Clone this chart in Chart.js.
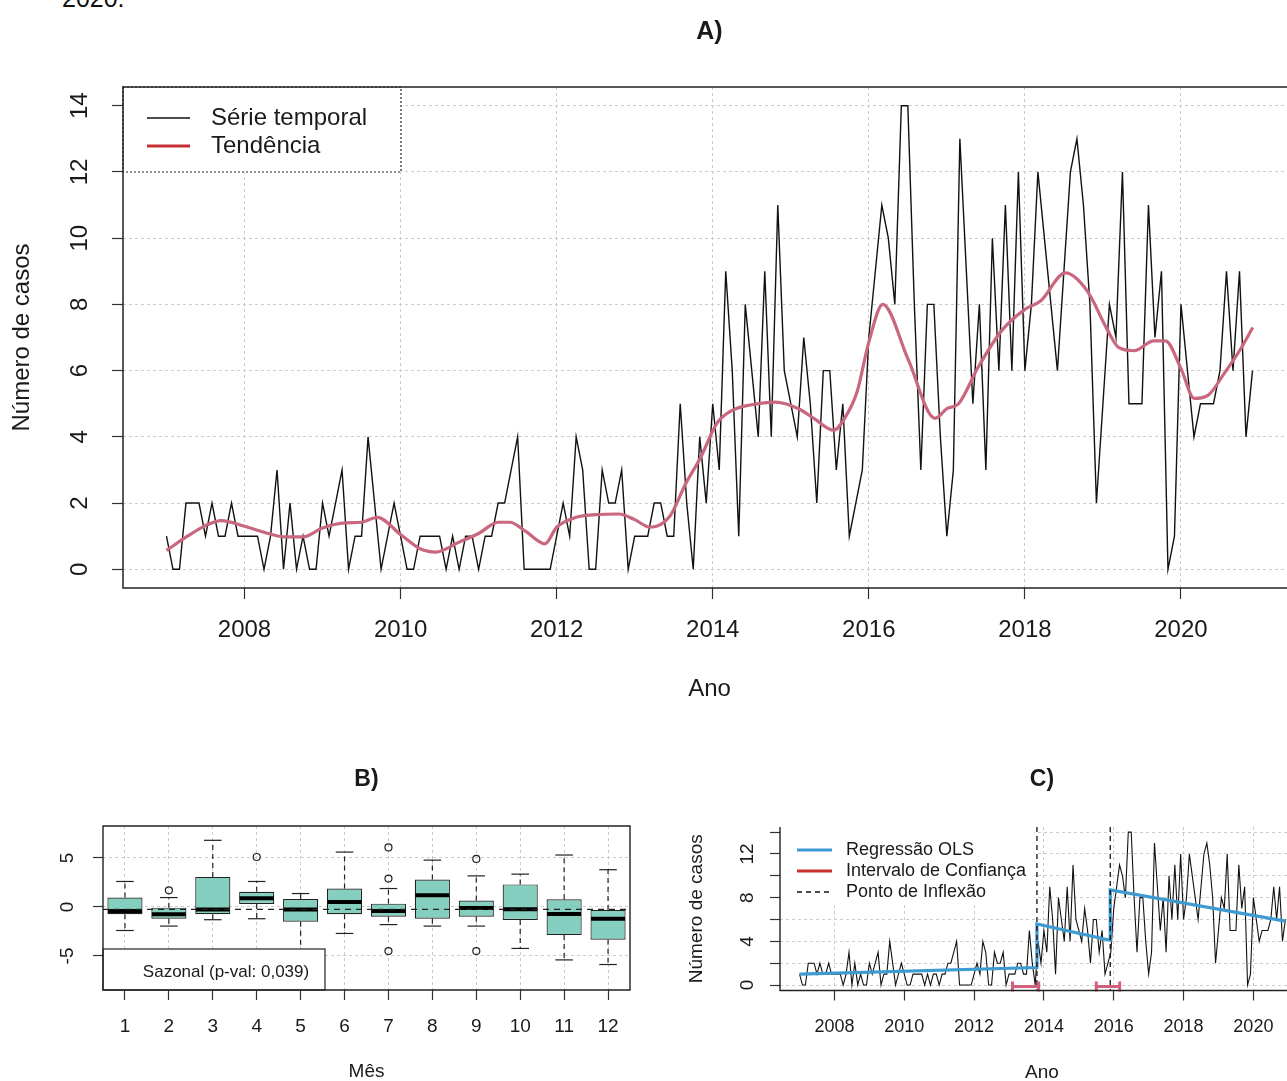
<!DOCTYPE html>
<html lang="pt">
<head>
<meta charset="utf-8">
<script src="https://cdn.jsdelivr.net/npm/chart.js@4.4.1/dist/chart.umd.min.js"></script>
<style>
  html, body { margin:0; padding:0; background:#fff; width:1287px; height:1081px; overflow:hidden; position:relative; }
  canvas { position:absolute; }
  #topo { position:absolute; left:62px; top:-16px; font:25px 'Liberation Sans', Arial, sans-serif; color:#111; }
</style>
</head>
<body>
<div id="topo">2020.</div>
<canvas id="graficoA" width="1296" height="720" style="left:0;top:0"></canvas>
<canvas id="graficoB" width="660" height="360" style="left:0;top:740px"></canvas>
<canvas id="graficoC" width="624" height="360" style="left:680px;top:740px"></canvas>
<script>
// serie mensal jan/2007 - dez/2020
const anoInicio = 2007;
const casos = [
  1,0,0,2,2,2,1,2,1,1,2,1,
  1,1,1,0,1,3,0,2,0,1,0,0,
  2,1,2,3,0,1,1,4,2,0,1,2,
  1,0,0,1,1,1,1,0,1,0,1,1,
  0,1,1,2,2,3,4,0,0,0,0,0,
  1,2,1,4,3,0,0,3,2,2,3,0,
  1,1,1,2,2,1,1,5,2,0,4,2,
  5,3,9,6,1,8,6,4,9,4,11,6,
  5,4,7,5,2,6,6,3,5,1,2,3,
  7,9,11,10,8,14,14,8,3,8,8,4,
  1,3,13,9,5,8,3,10,6,11,6,12,
  6,8,12,10,8,6,9,12,13,11,8,2,
  5,8,7,12,5,5,5,11,7,9,0,1,
  8,6,4,5,5,5,6,9,6,9,4,6
];

// tendencia
const tendenciaAno = [2007.00,2007.25,2007.50,2007.70,2008.00,2008.25,2008.50,2008.75,2009.00,2009.30,2009.50,2009.70,
  2010.00,2010.25,2010.45,2010.75,2011.00,2011.25,2011.40,2011.60,2011.85,2012.00,2012.25,2012.50,2012.80,
  2013.00,2013.20,2013.45,2013.65,2013.85,2014.05,2014.25,2014.50,2014.80,2015.10,2015.30,2015.55,2015.70,2015.85,
  2016.00,2016.18,2016.50,2016.85,2017.00,2017.15,2017.40,2017.70,2018.00,2018.20,2018.52,2018.80,
  2019.05,2019.20,2019.40,2019.65,2019.80,2020.00,2020.17,2020.35,2020.55,2020.75,2020.92];
const tendenciaValor = [0.57,0.97,1.32,1.47,1.30,1.12,0.98,0.98,1.25,1.40,1.42,1.57,
  1.05,0.62,0.52,0.82,1.08,1.42,1.42,1.15,0.77,1.27,1.57,1.65,1.67,
  1.50,1.27,1.60,2.57,3.40,4.40,4.80,4.97,5.05,4.85,4.55,4.20,4.60,5.36,
  6.86,8.00,6.36,4.56,4.85,5.00,6.10,7.20,7.85,8.10,8.95,8.40,
  7.26,6.70,6.60,6.90,6.90,6.06,5.16,5.26,5.90,6.60,7.30];

const anosEixo = [2008, 2010, 2012, 2014, 2016, 2018, 2020];
const ticksCasosA = [0, 2, 4, 6, 8, 10, 12, 14];

// componente sazonal por mes
const meses = ['1','2','3','4','5','6','7','8','9','10','11','12'];
const q1        = [-0.75,-1.2,-0.75,0.3,-1.5,-0.75,-1.0,-1.2,-1.0,-1.33,-2.87,-3.34];
const q3        = [0.96,-0.07,3.07,1.54,0.82,1.88,0.34,2.8,0.65,2.3,0.78,-0.3];
const mediana   = [-0.4,-0.75,-0.25,0.9,-0.27,0.5,-0.4,1.2,-0.1,-0.24,-0.72,-1.2];
const bigodeMax = [2.6,0.96,6.8,2.6,1.37,5.6,1.88,4.78,3.17,3.35,5.3,3.8];
const bigodeMin = [-2.4,-1.95,-1.3,-1.2,-5.2,-2.7,-1.8,-1.95,-1.95,-4.23,-5.4,-5.87];
const outlierMes   = ['2','4','7','7','7','9','9'];
const outlierValor = [1.7,5.1,6.07,2.9,-4.5,4.9,-4.5];
const mediaSazonal = -0.25;
const ticksSazonal = [-5, 0, 5];

// regressao segmentada
const olsAno   = [2007.0, 2013.8, 2013.8, 2015.9, 2015.9, 2020.917];
const olsValor = [1.0, 1.6, 5.6, 4.1, 8.7, 5.85];
const pontosInflexao = [2013.8, 2015.9];
const icInicio = [2013.1, 2015.5];
const icFim    = [2013.85, 2016.17];
const ticksCasosC = [0, 2, 4, 6, 8, 10, 12, 14];
const rotulosCasosC = [0, 4, 8, 12];

const fonte = "'Liberation Sans', Arial, sans-serif";
const corTexto = '#1a1a1a';
const corGrade = '#cccccc';

const serie = casos.map((v, i) => ({x: anoInicio + i / 12, y: v}));

// caixa, rotulos y girados e titulo do painel (estilo R)
const estiloR = {
  id: 'estiloR',
  afterDraw(chart, args, o) {
    const {ctx, chartArea: a, scales} = chart;
    ctx.save();
    ctx.strokeStyle = '#222';
    ctx.lineWidth = o.espessura || 1.4;
    ctx.beginPath();
    if (o.caixa === 'L') {
      ctx.moveTo(a.left, a.top); ctx.lineTo(a.left, a.bottom); ctx.lineTo(a.right, a.bottom);
    } else {
      ctx.rect(a.left, a.top, a.right - a.left, a.bottom - a.top);
    }
    ctx.stroke();
    ctx.fillStyle = corTexto;
    ctx.textAlign = 'center';
    ctx.textBaseline = 'middle';
    ctx.font = o.fonteY;
    o.rotulosY.forEach(v => {
      ctx.save();
      ctx.translate(a.left - o.distY, scales.y.getPixelForValue(v));
      ctx.rotate(-Math.PI / 2);
      ctx.fillText(String(v), 0, 0);
      ctx.restore();
    });
    ctx.font = o.fonteTitulo;
    ctx.fillText(o.titulo, (a.left + a.right) / 2, o.tituloY);
    ctx.restore();
  }
};

const legendaA = {
  id: 'legendaA',
  afterDatasetsDraw(chart) {
    const {ctx, chartArea: a} = chart;
    const ds = chart.data.datasets;
    ctx.save();
    ctx.fillStyle = '#fff';
    ctx.fillRect(a.left, a.top, 278, 85);
    ctx.setLineDash([2, 2]);
    ctx.strokeStyle = '#222';
    ctx.lineWidth = 1.2;
    ctx.strokeRect(a.left, a.top, 278, 85);
    ctx.setLineDash([]);
    const itens = [[ds[1].label, '#111', 1.5, 31], [ds[0].label, '#c62f35', 3, 59]];
    ctx.font = '24px ' + fonte;
    ctx.textBaseline = 'middle';
    itens.forEach(([txt, cor, lw, dy]) => {
      ctx.strokeStyle = cor; ctx.lineWidth = lw;
      ctx.beginPath(); ctx.moveTo(a.left + 24, a.top + dy); ctx.lineTo(a.left + 67, a.top + dy); ctx.stroke();
      ctx.fillStyle = corTexto;
      ctx.fillText(txt, a.left + 88, a.top + dy);
    });
    ctx.restore();
  }
};

const bigodes = {
  id: 'bigodes',
  afterDatasetsDraw(chart) {
    const {ctx, chartArea: a, scales: {x, y}} = chart;
    const larg = x.getPixelForValue(1) - x.getPixelForValue(0);
    ctx.save();
    ctx.strokeStyle = '#222';
    ctx.lineWidth = 1.2;
    meses.forEach((m, i) => {
      const px = x.getPixelForValue(i);
      [[q3[i], bigodeMax[i]], [q1[i], bigodeMin[i]]].forEach(([de, ate]) => {
        ctx.setLineDash([5, 4]);
        ctx.beginPath(); ctx.moveTo(px, y.getPixelForValue(de)); ctx.lineTo(px, y.getPixelForValue(ate)); ctx.stroke();
        ctx.setLineDash([]);
        ctx.beginPath(); ctx.moveTo(px - larg * 0.2, y.getPixelForValue(ate)); ctx.lineTo(px + larg * 0.2, y.getPixelForValue(ate)); ctx.stroke();
      });
    });
    // linha da media
    ctx.setLineDash([6, 5]);
    ctx.beginPath();
    ctx.moveTo(a.left, y.getPixelForValue(mediaSazonal)); ctx.lineTo(a.right, y.getPixelForValue(mediaSazonal));
    ctx.stroke();
    ctx.setLineDash([]);
    // caixa da legenda
    ctx.fillStyle = '#fff';
    ctx.fillRect(a.left, a.bottom - 41, 222, 41);
    ctx.strokeRect(a.left, a.bottom - 41, 222, 41);
    ctx.fillStyle = corTexto;
    ctx.font = '17px ' + fonte;
    ctx.textAlign = 'center';
    ctx.textBaseline = 'middle';
    ctx.fillText('Sazonal (p-val: 0,039)', a.left + 123, a.bottom - 18);
    ctx.restore();
  }
};

const quebras = {
  id: 'quebras',
  afterDatasetsDraw(chart) {
    const {ctx, chartArea: a, scales: {x, y}} = chart;
    ctx.save();
    ctx.strokeStyle = '#111';
    ctx.lineWidth = 1.3;
    ctx.setLineDash([5, 4]);
    pontosInflexao.forEach(p => {
      ctx.beginPath(); ctx.moveTo(x.getPixelForValue(p), a.top); ctx.lineTo(x.getPixelForValue(p), a.bottom); ctx.stroke();
    });
    ctx.setLineDash([]);
    ctx.strokeStyle = '#d2607d';
    ctx.lineWidth = 3;
    const y0 = y.getPixelForValue(0) + 1.5;
    icInicio.forEach((ini, i) => {
      const x1 = x.getPixelForValue(ini), x2 = x.getPixelForValue(icFim[i]);
      ctx.beginPath();
      ctx.moveTo(x1, y0 - 5); ctx.lineTo(x1, y0 + 5);
      ctx.moveTo(x1, y0); ctx.lineTo(x2, y0);
      ctx.moveTo(x2, y0 - 5); ctx.lineTo(x2, y0 + 5);
      ctx.stroke();
    });
    // legenda
    ctx.fillStyle = '#fff';
    ctx.fillRect(a.left + 1, a.top, 253, 75);
    const itens = [['Regressão OLS', '#3d9bd1', 3, []], ['Intervalo de Confiança', '#c9302c', 3, []], ['Ponto de Inflexão', '#111', 1.3, [5, 4]]];
    ctx.font = '18px ' + fonte;
    ctx.textBaseline = 'middle';
    itens.forEach(([txt, cor, lw, dash], k) => {
      const yy = a.top + 23 + k * 21;
      ctx.strokeStyle = cor; ctx.lineWidth = lw; ctx.setLineDash(dash);
      ctx.beginPath(); ctx.moveTo(a.left + 17, yy); ctx.lineTo(a.left + 52, yy); ctx.stroke();
      ctx.setLineDash([]);
      ctx.fillStyle = corTexto;
      ctx.fillText(txt, a.left + 66, yy);
    });
    ctx.restore();
  }
};

function grade(tl) {
  return { color: corGrade, lineWidth: 1, tickLength: tl, tickColor: '#333', tickWidth: 1.2 };
}

// ---------- A) ----------
new Chart(document.getElementById('graficoA'), {
  type: 'line',
  data: {
    datasets: [
      { label: 'Tendência', data: tendenciaAno.map((a, i) => ({x: a, y: tendenciaValor[i]})),
        borderColor: '#c9677f', borderWidth: 3.2, pointRadius: 0, cubicInterpolationMode: 'monotone', order: 1 },
      { label: 'Série temporal', data: serie, borderColor: '#111', borderWidth: 1.4, pointRadius: 0, tension: 0, order: 2 }
    ]
  },
  options: {
    responsive: false, animation: false, events: [],
    layout: { padding: { top: 87, right: 0, left: 0, bottom: 0 } },
    plugins: {
      legend: { display: false }, tooltip: { enabled: false },
      estiloR: { titulo: 'A)', tituloY: 32, fonteTitulo: 'bold 25px ' + fonte, rotulosY: ticksCasosA, distY: 43, fonteY: '24px ' + fonte, espessura: 1.5 }
    },
    scales: {
      x: {
        type: 'linear', min: 2006.443, max: 2021.474,
        afterBuildTicks: s => { s.ticks = anosEixo.map(v => ({value: v})); },
        afterFit: s => { s.height = 132; },
        ticks: { font: { family: fonte, size: 24 }, color: corTexto, padding: 17, maxRotation: 0, autoSkip: false, callback: v => String(v) },
        grid: grade(11),
        border: { display: false, dash: [3, 3] },
        title: { display: true, text: 'Ano', font: { family: fonte, size: 24 }, color: corTexto, padding: { top: 0, bottom: 16.6 } }
      },
      y: {
        type: 'linear', min: -0.565, max: 14.565,
        afterBuildTicks: s => { s.ticks = ticksCasosA.map(v => ({value: v})); },
        afterFit: s => { s.width = 123; },
        ticks: { display: false },
        grid: grade(11),
        border: { display: false, dash: [3, 3] },
        title: { display: true, text: 'Número de casos', font: { family: fonte, size: 24 }, color: corTexto, padding: { top: 7.6, bottom: 0 } }
      }
    }
  },
  plugins: [legendaA, estiloR]
});

// ---------- B) ----------
new Chart(document.getElementById('graficoB'), {
  type: 'bar',
  data: {
    labels: meses,
    datasets: [
      { type: 'line', label: 'mediana', data: mediana, showLine: false, pointStyle: 'line', pointRadius: 17, pointBorderWidth: 4, pointBorderColor: '#000', order: 1 },
      { type: 'line', label: 'outliers', data: outlierMes.map((m, i) => ({x: m, y: outlierValor[i]})), showLine: false,
        pointStyle: 'circle', pointRadius: 3.5, pointBorderWidth: 1.2, pointBorderColor: '#222', pointBackgroundColor: 'rgba(0,0,0,0)', order: 2 },
      { label: 'caixa', data: q1.map((v, i) => [v, q3[i]]), backgroundColor: '#84cfbf', borderColor: '#222', borderWidth: 1.2,
        borderSkipped: false, barPercentage: 0.8, categoryPercentage: 1, order: 3 }
    ]
  },
  options: {
    responsive: false, animation: false, events: [],
    layout: { padding: { top: 86, right: 30, left: 0, bottom: 0 } },
    plugins: {
      legend: { display: false }, tooltip: { enabled: false },
      estiloR: { titulo: 'B)', tituloY: 40, fonteTitulo: 'bold 23px ' + fonte, rotulosY: ticksSazonal, distY: 35, fonteY: '19px ' + fonte }
    },
    scales: {
      x: {
        type: 'category', offset: true,
        afterFit: s => { s.height = 110; },
        ticks: { font: { family: fonte, size: 19 }, color: corTexto, padding: 15.6, maxRotation: 0, autoSkip: false },
        grid: Object.assign(grade(10), { offset: false }),
        border: { display: false, dash: [3, 3] },
        title: { display: true, text: 'Mês', font: { family: fonte, size: 19 }, color: corTexto, padding: { top: 0, bottom: 16.6 } }
      },
      y: {
        type: 'linear', min: -8.47, max: 8.26,
        afterBuildTicks: s => { s.ticks = ticksSazonal.map(v => ({value: v})); },
        afterFit: s => { s.width = 103; },
        ticks: { display: false },
        grid: grade(10),
        border: { display: false, dash: [3, 3] }
      }
    }
  },
  plugins: [bigodes, estiloR]
});

// ---------- C) ----------
new Chart(document.getElementById('graficoC'), {
  type: 'line',
  data: {
    datasets: [
      { label: 'Regressão OLS', data: olsAno.map((a, i) => ({x: a, y: olsValor[i]})), borderColor: '#3d9bd1', borderWidth: 3.2, pointRadius: 0, tension: 0, order: 1 },
      { label: 'Série', data: serie, borderColor: '#111', borderWidth: 1.1, pointRadius: 0, tension: 0, order: 2 }
    ]
  },
  options: {
    responsive: false, animation: false, events: [],
    layout: { padding: { top: 87, right: 0, left: 0, bottom: 0 } },
    plugins: {
      legend: { display: false }, tooltip: { enabled: false },
      estiloR: { caixa: 'L', titulo: 'C)', tituloY: 40, fonteTitulo: 'bold 23px ' + fonte, rotulosY: rotulosCasosC, distY: 32, fonteY: '19px ' + fonte }
    },
    scales: {
      x: {
        type: 'linear', min: 2006.44, max: 2021.45,
        afterBuildTicks: s => { s.ticks = anosEixo.map(v => ({value: v})); },
        afterFit: s => { s.height = 109.5; },
        ticks: { font: { family: fonte, size: 18 }, color: corTexto, padding: 15.7, maxRotation: 0, autoSkip: false, callback: v => String(v) },
        grid: grade(10),
        border: { display: false, dash: [3, 3] },
        title: { display: true, text: 'Ano', font: { family: fonte, size: 19 }, color: corTexto, padding: { top: 0, bottom: 15.6 } }
      },
      y: {
        type: 'linear', min: -0.5, max: 14.47,
        afterBuildTicks: s => { s.ticks = ticksCasosC.map(v => ({value: v})); },
        afterFit: s => { s.width = 100; },
        ticks: { display: false },
        grid: grade(10),
        border: { display: false, dash: [3, 3] },
        title: { display: true, text: 'Número de casos', font: { family: fonte, size: 19 }, color: corTexto, padding: { top: 5.6, bottom: 0 } }
      }
    }
  },
  plugins: [quebras, estiloR]
});
</script>
</body>
</html>
